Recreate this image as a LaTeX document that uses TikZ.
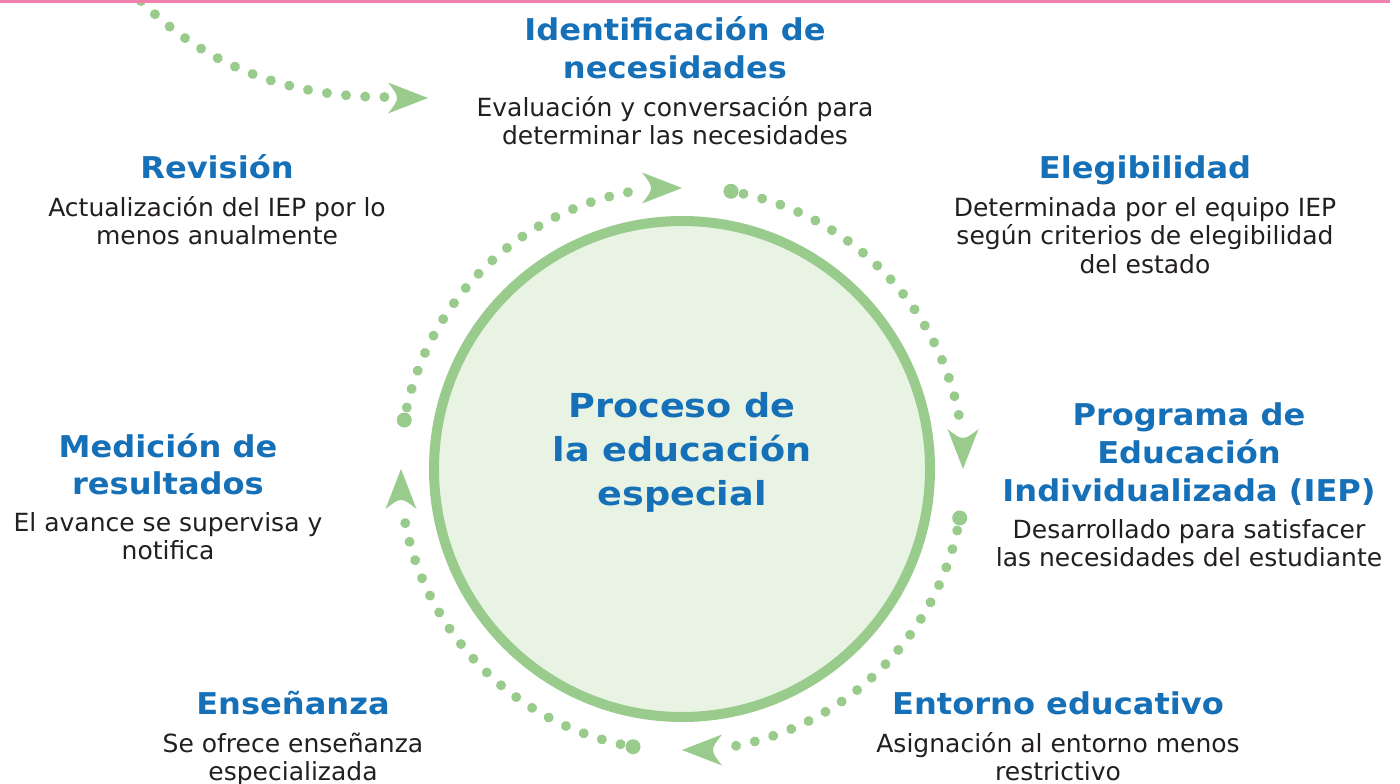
\documentclass[tikz,border=0pt]{standalone}
\usepackage{fontspec}
\usetikzlibrary{decorations.markings}
\setmainfont{DejaVu Sans}
\newfontfamily\ttlfont{DejaVu Sans}[FakeStretch=1.07]
\newfontfamily\ctrfont{DejaVu Sans}[FakeStretch=1.11]
\definecolor{tblue}{RGB}{22,112,184}
\definecolor{tdark}{RGB}{35,31,32}
\definecolor{dgreen}{RGB}{153,204,140}
\definecolor{cfill}{RGB}{232,243,228}
\definecolor{pinkline}{RGB}{240,128,172}
\newcommand\tstrut{\rule{0pt}{30pt}}
\newcommand\bstrut{\rule{0pt}{25pt}}
\newcommand\cstrut{\rule{0pt}{33pt}}
\newcommand\arrhd[2]{\fill[dgreen,shift={(#1)},rotate=#2] (0,0) -- (-40,15.5) .. controls (-28,0) .. (-40,-15.5) -- cycle;}
\tikzset{
  ttl/.style={font=\ttlfont\fontsize{30}{38}\selectfont\bfseries, text=tblue, align=center, anchor=north, inner sep=0pt},
  bdy/.style={font=\fontsize{25}{28.5}\selectfont, text=tdark, align=center, anchor=north, inner sep=0pt},
  ctr/.style={font=\ctrfont\fontsize{33}{44}\selectfont\bfseries, text=tblue, align=center, anchor=north, inner sep=0pt},
  dots/.style={decoration={markings, mark=between positions 0 and 1 step 19.2pt with {\fill[dgreen] (0,0) circle[radius=5];}}, decorate},
  bigdot/.style={fill=dgreen}
}
\begin{document}
\begin{tikzpicture}[x=1pt,y=1pt]
\useasboundingbox (0,0) rectangle (1400,-784);
\fill[white] (0,0) rectangle (1400,-784);
\coordinate (C) at (682,-469);
% central circle
\node (ring) [circle, draw=dgreen, line width=10pt, fill=cfill, minimum size=496pt, inner sep=0pt] at (C) {};
\node (ctext) [ctr] at (682,-384) {\cstrut Proceso de\\la educación\\especial};
% dotted arcs
\coordinate (s1) at ([shift={(80:282)}]C);
\coordinate (s2) at ([shift={(-10:282)}]C);
\coordinate (s3) at ([shift={(-100:282)}]C);
\coordinate (s4) at ([shift={(170:282)}]C);
\coordinate (t1) at ([shift={(0:281)}]C);
\coordinate (t2) at ([shift={(-90:281)}]C);
\coordinate (t3) at ([shift={(180:281)}]C);
\coordinate (t4) at ([shift={(90:281)}]C);
\path[dots] ([shift={(77.4:282)}]C) arc[start angle=77.4, end angle=8, radius=282];
\path[dots] ([shift={(-12.6:282)}]C) arc[start angle=-12.6, end angle=-82, radius=282];
\path[dots] ([shift={(-102.6:282)}]C) arc[start angle=-102.6, end angle=-172, radius=282];
\path[dots] ([shift={(167.4:282)}]C) arc[start angle=167.4, end angle=98, radius=282];
\fill[bigdot] (s1) circle[radius=7.5];
\fill[bigdot] (s2) circle[radius=7.5];
\fill[bigdot] (s3) circle[radius=7.5];
\fill[bigdot] (s4) circle[radius=7.5];
\arrhd{t1}{-90}
\arrhd{t2}{180}
\arrhd{t3}{90}
\arrhd{t4}{0}
% top-left incoming curve
\coordinate (in0) at (141,-1);
\coordinate (in1) at (385,-97);
\coordinate (t0) at (428,-98);
\path[dots] (in0) .. controls (205,-65) and (286.3,-97) .. (in1);
\arrhd{t0}{0}
% pink rule at top
\fill[pinkline] (0,0) rectangle (1390,-3);
% texts
\node (T1) [ttl] at (675,-10) {\tstrut Identificación de\\necesidades};
\node (B1) [bdy] at (675,-91) {\bstrut Evaluación y conversación para\\determinar las necesidades};
\node (T2) [ttl] at (1145,-148) {\tstrut Elegibilidad};
\node (B2) [bdy] at (1145,-191) {\bstrut Determinada por el equipo IEP\\según criterios de elegibilidad\\del estado};
\node (T3) [ttl] at (217,-148) {\tstrut Revisión};
\node (B3) [bdy] at (217,-191) {\bstrut Actualización del IEP por lo\\menos anualmente};
\node (T4) [ttl] at (1189,-395) {\tstrut Programa de\\Educación\\Individualizada (IEP)};
\node (B4) [bdy] at (1189,-513) {\bstrut Desarrollado para satisfacer\\las necesidades del estudiante};
\node (T5) [ttl,font=\ttlfont\fontsize{30}{37}\selectfont\bfseries] at (168,-427) {\tstrut Medición de\\resultados};
\node (B5) [bdy] at (168,-506) {\bstrut El avance se supervisa y\\notifica};
\node (T6) [ttl] at (293,-684) {\tstrut Enseñanza};
\node (B6) [bdy] at (293,-727) {\bstrut Se ofrece enseñanza\\especializada};
\node (T7) [ttl] at (1058,-684) {\tstrut Entorno educativo};
\node (B7) [bdy] at (1058,-727) {\bstrut Asignación al entorno menos\\restrictivo};
\end{tikzpicture}
\end{document}
